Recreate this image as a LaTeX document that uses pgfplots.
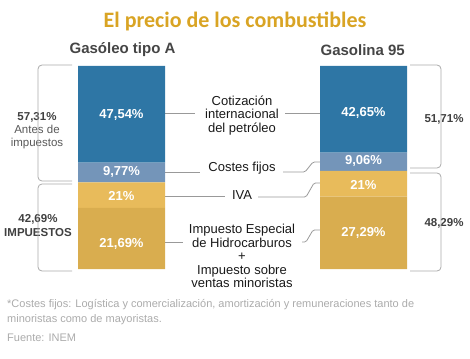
\documentclass[border=0pt]{standalone}
\usepackage{fontspec}
\setmainfont{Liberation Sans}
\newfontfamily\titlefont{Carlito}
\usepackage{pgfplots}
\pgfplotsset{compat=1.18}
\usepackage{pgfplotstable}
\definecolor{cblue}{HTML}{2E76A5}
\definecolor{ccost}{HTML}{7495B9}
\definecolor{civa}{HTML}{E8BB5B}
\definecolor{cimp}{HTML}{D9AD4F}
\definecolor{ctitle}{HTML}{D9A424}
\definecolor{conn}{HTML}{999999}
\definecolor{brk}{HTML}{AAAAAA}

\tikzset{
  vallab/.style={font=\bfseries\fontsize{13}{14}\selectfont, text=white},
  midlab/.style={font=\fontsize{13}{13.5}\selectfont, text=black!90, align=center},
  conline/.style={draw=conn, line width=0.8pt, rounded corners=1.5pt},
  brline/.style={draw=brk, line width=0.8pt, rounded corners=4pt},
  brlab/.style={fill=white, inner sep=1pt, align=center, text=black!75},
  foot/.style={anchor=west, inner sep=0pt, text=black!33, font=\fontsize{11}{15}\selectfont, align=left},
}

% bar heights as drawn (in % of the bar), labels carry the printed values
\pgfplotstableread{
x imp iva costes blue
121.5 30.09 12.60 9.77 47.54
363.5 35.63 12.66 9.06 42.65
}\datatable

\begin{document}
\begin{tikzpicture}
\begin{axis}[
  scale only axis, width=470pt, height=358pt,
  xmin=0, xmax=470, ymin=-43.84, ymax=132.51,
  hide axis, clip=false,
  ybar stacked, bar width=87,
]
\addplot[fill=cimp, draw=none] table[x=x,y=imp]{\datatable};
\addplot[fill=civa, draw=none] table[x=x,y=iva]{\datatable};
\addplot[fill=ccost, draw=none] table[x=x,y=costes]{\datatable};
\addplot[fill=cblue, draw=none] table[x=x,y=blue]{\datatable};

\node[font=\titlefont\bfseries\fontsize{22}{24}\selectfont, text=ctitle] at (axis cs:235,122.0) {El precio de los combustibles};
\node[font=\bfseries\fontsize{15}{16}\selectfont, text=black!73] at (axis cs:122.5,108.0) {Gasóleo tipo A};
\node[font=\bfseries\fontsize{15}{16}\selectfont, text=black!73] at (axis cs:362.7,108.0) {Gasolina 95};

\coordinate (v1) at (axis cs:121.5,75.86);
\coordinate (v2) at (axis cs:121.5,47.78);
\coordinate (v3) at (axis cs:121.5,35.96);
\coordinate (v4) at (axis cs:121.5,12.32);
\coordinate (w1) at (axis cs:363.5,76.85);
\coordinate (w2) at (axis cs:363.5,53.20);
\coordinate (w3) at (axis cs:363.5,41.38);
\coordinate (w4) at (axis cs:363.5,17.73);

\draw[conline] (axis cs:165,76.85) -- (axis cs:195,76.85);
\draw[conline] (axis cs:285,76.85) -- (axis cs:320,76.85);
\draw[conline] (axis cs:165,47.78) -- (axis cs:200,47.78);
\draw[conline] (axis cs:283,47.78) -- (axis cs:305,47.78) -- (axis cs:313,52.71) -- (axis cs:322,52.71);
\draw[conline] (axis cs:165,35.96) -- (axis cs:225,35.96);
\draw[conline] (axis cs:258,35.47) -- (axis cs:306,35.47) -- (axis cs:314,42.36) -- (axis cs:322,42.36);
\draw[conline] (axis cs:165,13.30) -- (axis cs:183,13.30);
\draw[conline] (axis cs:302,13.30) -- (axis cs:306,13.30) -- (axis cs:313,19.21) -- (axis cs:322,19.21);

\node[midlab] at (axis cs:242,75.61) {Cotización\\internacional\\del petróleo};
\node[midlab] at (axis cs:242,49.75) {Costes fijos};
\node[midlab] at (axis cs:242,36.45) {IVA};
\node[midlab] at (axis cs:242,6.40) {Impuesto Especial\\de Hidrocarburos\\+\\Impuesto sobre\\ventas minoristas};

\draw[brline] (axis cs:72,100.49) -- (axis cs:38,100.49) -- (axis cs:38,43.35) -- (axis cs:72,43.35);
\draw[brline] (axis cs:72,41.87) -- (axis cs:38,41.87) -- (axis cs:38,-0.99) -- (axis cs:72,-0.99);
\draw[brline] (axis cs:410,100.49) -- (axis cs:441,100.49) -- (axis cs:441,49.75) -- (axis cs:410,49.75);
\draw[brline] (axis cs:410,47.29) -- (axis cs:441,47.29) -- (axis cs:441,-0.99) -- (axis cs:410,-0.99);

\node[brlab, font=\bfseries\fontsize{11.5}{13}\selectfont] at (axis cs:37,74.88) {57,31\%};
\node[brlab, font=\fontsize{11.5}{12.5}\selectfont, text=black!65] at (axis cs:37,65.02) {Antes de\\impuestos};
\node[brlab, font=\bfseries\fontsize{11.5}{14}\selectfont] at (axis cs:38,21.18) {42,69\%\\IMPUESTOS};
\node[brlab, font=\bfseries\fontsize{11.5}{13}\selectfont] at (axis cs:444,73.89) {51,71\%};
\node[brlab, font=\bfseries\fontsize{11.5}{13}\selectfont] at (axis cs:444,22.66) {48,29\%};

\node[foot] at (axis cs:7,-21.43) {*Costes fijos: Logística y comercialización, amortización y remuneraciones tanto de\\minoristas como de mayoristas.};
\node[foot] at (axis cs:7,-33.99) {Fuente: INEM};
\end{axis}
\node[vallab] at (v1) {47,54\%};
\node[vallab] at (v2) {9,77\%};
\node[vallab] at (v3) {21\%};
\node[vallab] at (v4) {21,69\%};
\node[vallab] at (w1) {42,65\%};
\node[vallab] at (w2) {9,06\%};
\node[vallab] at (w3) {21\%};
\node[vallab] at (w4) {27,29\%};
\path (current axis.south west) rectangle (current axis.north east);
\end{tikzpicture}
\end{document}
